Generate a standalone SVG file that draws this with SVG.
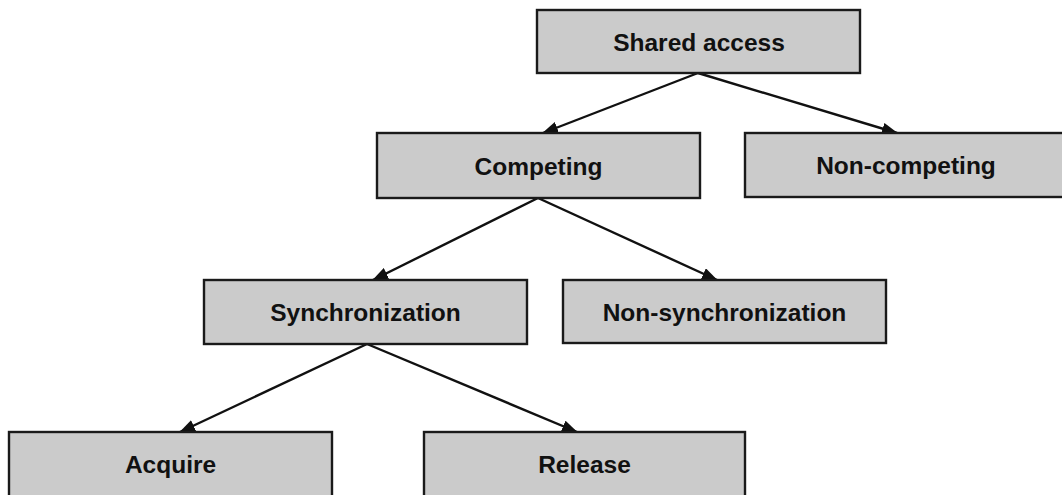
<svg xmlns="http://www.w3.org/2000/svg" width="1062" height="495" viewBox="0 0 1062 495">
  <style>
    .box { fill: #cbcbcb; stroke: #1a1a1a; stroke-width: 2.4; }
    .lbl { font-family: "Liberation Sans", Arial, sans-serif; font-weight: bold; font-size: 24.5px; fill: #111; text-anchor: middle; }
    .edge { stroke: #111; stroke-width: 2.4; fill: none; marker-end: url(#arrow); }
  </style>
  <defs>
    <marker id="arrow" markerUnits="userSpaceOnUse" markerWidth="16" markerHeight="12" refX="15" refY="6" orient="auto">
      <path d="M0,0 L16,6 L0,12 Z" fill="#111"/>
    </marker>
  </defs>
  <rect width="1062" height="495" fill="#ffffff"/>
  <g id="connectors">
    <line class="edge" x1="698" y1="73" x2="543" y2="133"/>
    <line class="edge" x1="698" y1="73" x2="897" y2="133"/>
    <line class="edge" x1="538" y1="198" x2="373" y2="280"/>
    <line class="edge" x1="538" y1="198" x2="717" y2="280"/>
    <line class="edge" x1="367" y1="344" x2="180" y2="432"/>
    <line class="edge" x1="367" y1="344" x2="577" y2="432"/>
  </g>
  <g id="shared-access">
    <rect class="box" x="537" y="10" width="323" height="63"/>
    <text class="lbl" x="699" y="50.5">Shared access</text>
  </g>
  <g id="competing">
    <rect class="box" x="377" y="133" width="323" height="65"/>
    <text class="lbl" x="538.5" y="174.5">Competing</text>
  </g>
  <g id="non-competing">
    <rect class="box" x="745" y="133" width="323" height="64"/>
    <text class="lbl" x="906" y="174">Non-competing</text>
  </g>
  <g id="synchronization">
    <rect class="box" x="204" y="280" width="323" height="64"/>
    <text class="lbl" x="365.5" y="321">Synchronization</text>
  </g>
  <g id="non-synchronization">
    <rect class="box" x="563" y="280" width="323" height="63"/>
    <text class="lbl" x="724.5" y="320.5">Non-synchronization</text>
  </g>
  <g id="acquire">
    <rect class="box" x="9" y="432" width="323" height="70"/>
    <text class="lbl" x="170.5" y="473">Acquire</text>
  </g>
  <g id="release">
    <rect class="box" x="424" y="432" width="321" height="70"/>
    <text class="lbl" x="584.5" y="473">Release</text>
  </g>
</svg>
